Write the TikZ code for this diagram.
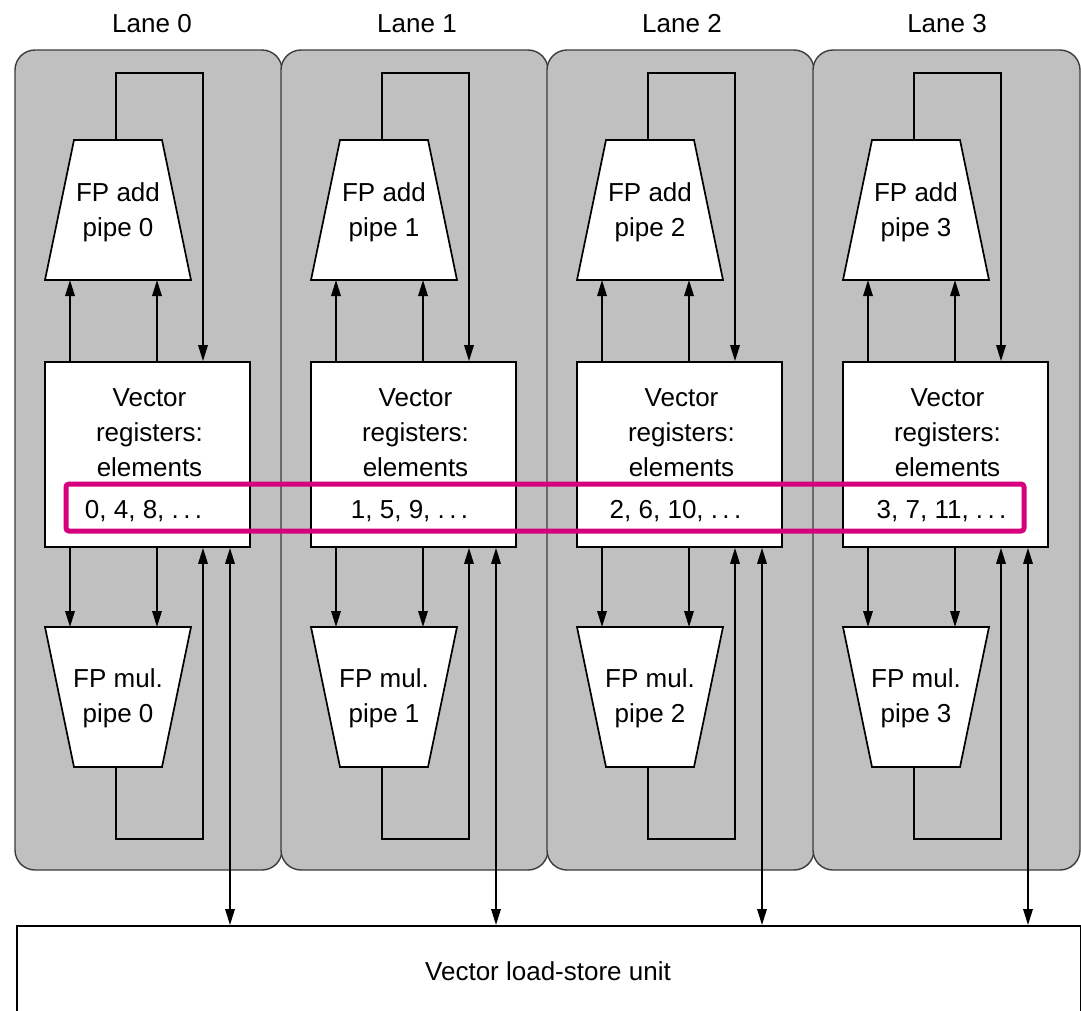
\documentclass[tikz,border=0pt]{standalone}
\usepackage{fontspec}
\setmainfont{Liberation Sans}
\usetikzlibrary{arrows.meta}
\definecolor{lanegray}{RGB}{192,192,192}
\definecolor{laneedge}{RGB}{60,60,60}
\definecolor{hlmag}{RGB}{214,0,127}
\begin{document}
\begin{tikzpicture}[x=1pt,y=-1pt,
  txt/.style={font=\fontsize{26}{35}\selectfont, inner sep=0pt, align=center},
  wire/.style={line width=1.7pt, draw=black},
  arr/.style={wire, -{Triangle[length=16pt,width=9.5pt]}},
  biarr/.style={wire, {Triangle[length=16pt,width=9.5pt]}-{Triangle[length=16pt,width=9.5pt]}},
  lanebox/.style={fill=lanegray, draw=laneedge, line width=1.4pt, rounded corners=20pt, minimum width=267pt, minimum height=820pt, inner sep=0pt},
  unit/.style={fill=white, draw=black, line width=1.7pt},
  regbox/.style={unit, minimum width=205pt, minimum height=185pt, inner sep=0pt},
  hlbox/.style={draw=hlmag, line width=5pt, rounded corners=3pt, minimum width=958pt, minimum height=47pt, inner sep=0pt}
]
\useasboundingbox (0,0) rectangle (1081,1010);
\fill[white] (0,0) rectangle (1081,1010);

% lane panels
\foreach \i in {0,...,3}{
  \pgfmathsetmacro{\o}{266*\i}
  \node[lanebox] (panel\i) at (148.5+\o,460) {};
  \node[txt, anchor=base] (lanelab\i) at (152+265*\i,32) {Lane \i};
}

% load-store unit
\node[unit, minimum width=1064pt, minimum height=110pt, inner sep=0pt, anchor=north west] (lsu) at (16,925) {};
\node[txt, anchor=base] (lsutxt) at (548,980) {Vector load-store unit};

\foreach \i in {0,...,3}{
  \pgfmathsetmacro{\o}{266*\i}
  % FP add pipe
  \draw[unit] (74+\o,140) -- (162+\o,140) -- (191+\o,280) -- (45+\o,280) -- cycle;
  \node[txt] (add\i) at (118+\o,212) {FP add\\pipe \i};
  % FP mul pipe
  \draw[unit] (45+\o,627) -- (191+\o,627) -- (162+\o,767) -- (74+\o,767) -- cycle;
  \node[txt] (mul\i) at (118+\o,698) {FP mul.\\pipe \i};
  % register file
  \node[regbox] (reg\i) at (147.5+\o,454.5) {};
  \node[txt] (regtxt\i) at (149.5+\o,433) {Vector\\registers:\\elements};
  % connector end points
  \coordinate (adda\i) at (70+\o,280);
  \coordinate (addb\i) at (157+\o,280);
  \coordinate (addt\i) at (116+\o,140);
  \coordinate (fbt\i) at (203+\o,73);
  \coordinate (mula\i) at (70+\o,627);
  \coordinate (mulb\i) at (157+\o,627);
  \coordinate (mulo\i) at (116+\o,767);
  \coordinate (fbb\i) at (203+\o,839);
  \coordinate (ls\i) at (230+\o,925);
  % connectors
  \draw[arr] (reg\i.north -| adda\i) -- (adda\i);
  \draw[arr] (reg\i.north -| addb\i) -- (addb\i);
  \draw[arr] (addt\i) |- (fbt\i) -- (fbt\i |- reg\i.north);
  \draw[arr] (reg\i.south -| mula\i) -- (mula\i);
  \draw[arr] (reg\i.south -| mulb\i) -- (mulb\i);
  \draw[arr] (mulo\i) |- (fbb\i) -- (fbb\i |- reg\i.south);
  \draw[biarr] (reg\i.south -| ls\i) -- (ls\i |- lsu.north);
}

\node[txt, anchor=base] (el0) at (143.5,518) {0, 4, 8, .\,.\,.};
\node[txt, anchor=base] (el1) at (409.5,518) {1, 5, 9, .\,.\,.};
\node[txt, anchor=base] (el2) at (675.5,518) {2, 6, 10, .\,.\,.};
\node[txt, anchor=base] (el3) at (941.5,518) {3, 7, 11, .\,.\,.};

% highlight
\node[hlbox] (hl) at (545,507.5) {};
\end{tikzpicture}
\end{document}
